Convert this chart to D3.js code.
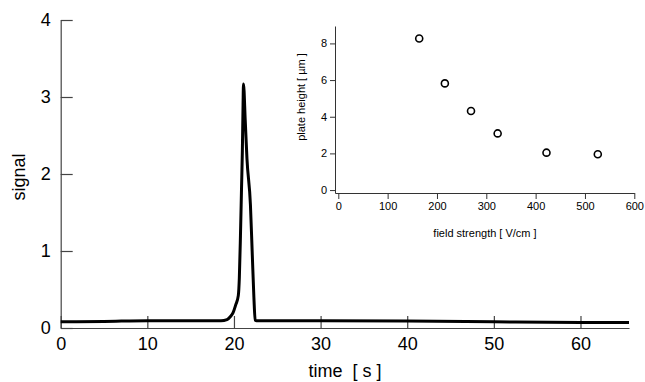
<!DOCTYPE html>
<html>
<head>
<meta charset="utf-8">
<script src="https://cdn.jsdelivr.net/npm/d3@7"></script>
<style>
  body { margin: 0; background: #fff; }
  text { font-family: "Liberation Sans", Arial, sans-serif; }
</style>
</head>
<body>
<script>
// trace
var time = [0, 5, 10, 15, 18.5, 19.2, 19.6, 19.9, 20.2, 20.5, 20.62, 20.75, 20.87, 20.97, 21.05, 21.1, 21.3, 21.5, 21.9, 22.1, 22.3, 22.45, 22.6, 25, 30, 40, 50, 60, 65.6];
var signal = [0.08, 0.085, 0.095, 0.095, 0.095, 0.11, 0.15, 0.2, 0.3, 0.42, 0.65, 1.2, 1.8, 2.3, 2.9, 3.17, 2.7, 2.2, 1.6, 1.0, 0.4, 0.1, 0.095, 0.095, 0.095, 0.09, 0.08, 0.07, 0.07];
var timeTicks = [0, 10, 20, 30, 40, 50, 60];
var signalTicks = [0, 1, 2, 3, 4];

// inset: plate height vs field strength
var field = [164, 216, 269, 323, 422, 526];
var plateHeight = [8.27, 5.82, 4.31, 3.09, 2.04, 1.95];
var fieldTicks = [0, 100, 200, 300, 400, 500, 600];
var heightTicks = [0, 2, 4, 6, 8];

var svg = d3.select("body").append("svg")
  .attr("width", 645)
  .attr("height", 382);

// main chart
var x = d3.scaleLinear().domain([0, 65.6]).range([60.7, 629]);
var y = d3.scaleLinear().domain([0, 4]).range([328, 20]);

var xAxis = svg.append("g")
  .attr("transform", "translate(0,328)")
  .call(d3.axisBottom(x).tickValues(timeTicks).tickFormat(d3.format("d"))
    .tickSizeInner(-12).tickSizeOuter(0).tickPadding(9));
var yAxis = svg.append("g")
  .attr("transform", "translate(60.7,0)")
  .call(d3.axisLeft(y).tickValues(signalTicks).tickFormat(d3.format("d"))
    .tickSizeInner(-12).tickSizeOuter(0).tickPadding(10));

[xAxis, yAxis].forEach(function(g) {
  g.select(".domain").attr("stroke", "#444").attr("stroke-width", 1.2);
  g.selectAll(".tick line").attr("stroke", "#444").attr("stroke-width", 1.2);
  g.selectAll(".tick text").attr("fill", "#000").style("font-size", "18px");
});

svg.append("text")
  .attr("transform", "translate(25,177) rotate(-90)")
  .attr("text-anchor", "middle")
  .style("font-size", "18px")
  .text("signal");

svg.append("text")
  .attr("x", 345)
  .attr("y", 377)
  .attr("text-anchor", "middle")
  .style("font-size", "18px")
  .attr("xml:space", "preserve")
  .text("time  [ s ]");

var line = d3.line()
  .x(function(d, i) { return x(time[i]); })
  .y(function(d) { return y(d); })
  .curve(d3.curveMonotoneX);

svg.append("path")
  .datum(signal)
  .attr("d", line)
  .attr("fill", "none")
  .attr("stroke", "#000")
  .attr("stroke-width", 3)
  .attr("stroke-linejoin", "round");

// inset
var ix = d3.scaleLinear().domain([-6.7, 600]).range([335, 634.3]);
var iy = d3.scaleLinear().domain([-0.16, 8.95]).range([193, 26]);

var ixAxis = svg.append("g")
  .attr("transform", "translate(0,193)")
  .call(d3.axisBottom(ix).tickValues(fieldTicks).tickSizeInner(6).tickSizeOuter(0).tickPadding(3));
var iyAxis = svg.append("g")
  .attr("transform", "translate(335,0)")
  .call(d3.axisLeft(iy).tickValues(heightTicks).tickSizeInner(5).tickSizeOuter(0).tickPadding(3));

[ixAxis, iyAxis].forEach(function(g) {
  g.select(".domain").attr("stroke", "#333");
  g.selectAll(".tick line").attr("stroke", "#333");
  g.selectAll(".tick text").attr("fill", "#000").style("font-size", "11px");
});

svg.append("text")
  .attr("transform", "translate(305,97) rotate(-90)")
  .attr("text-anchor", "middle")
  .style("font-size", "11px")
  .text("plate height [ µm ]");

svg.append("text")
  .attr("x", 485)
  .attr("y", 237)
  .attr("text-anchor", "middle")
  .style("font-size", "11px")
  .text("field strength [ V/cm ]");

svg.selectAll("circle.pt")
  .data(plateHeight)
  .enter()
  .append("circle")
  .attr("class", "pt")
  .attr("cx", function(d, i) { return ix(field[i]); })
  .attr("cy", function(d) { return iy(d); })
  .attr("r", 3.5)
  .attr("fill", "none")
  .attr("stroke", "#000")
  .attr("stroke-width", 1.6);
</script>
</body>
</html>
